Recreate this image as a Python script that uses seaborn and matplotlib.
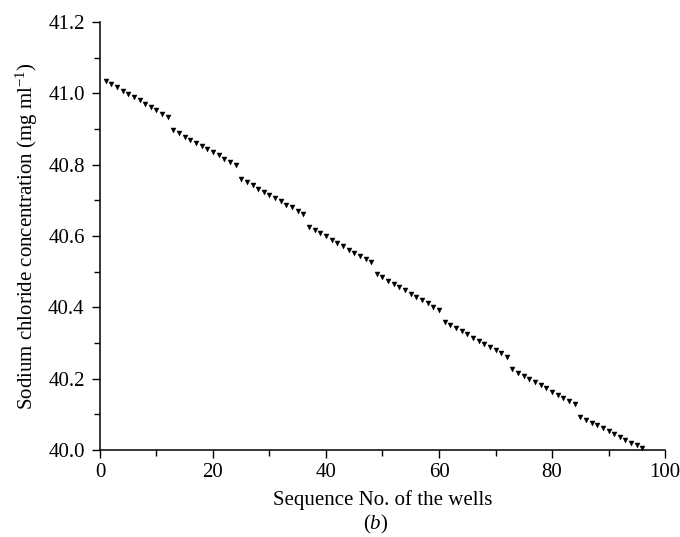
import matplotlib
matplotlib.use("Agg")
import matplotlib.pyplot as plt
import seaborn as sns
import pandas as pd
from matplotlib.ticker import MultipleLocator, FormatStrFormatter

# Well sequence numbers (8 rows x 12 wells)
wells = list(range(1, 97))

row_a = [41.035, 41.026, 41.017, 41.007, 40.998, 40.989, 40.980, 40.971, 40.962, 40.953, 40.943, 40.934]
row_b = [40.897, 40.888, 40.879, 40.870, 40.861, 40.852, 40.844, 40.835, 40.826, 40.817, 40.808, 40.799]
row_c = [40.760, 40.751, 40.742, 40.733, 40.724, 40.715, 40.706, 40.697, 40.688, 40.680, 40.671, 40.662]
row_d = [40.626, 40.617, 40.608, 40.599, 40.590, 40.581, 40.571, 40.562, 40.553, 40.544, 40.535, 40.526]
row_e = [40.493, 40.484, 40.475, 40.466, 40.457, 40.448, 40.438, 40.429, 40.420, 40.411, 40.402, 40.393]
row_f = [40.360, 40.351, 40.342, 40.333, 40.324, 40.315, 40.307, 40.298, 40.289, 40.280, 40.271, 40.262]
row_g = [40.226, 40.217, 40.208, 40.199, 40.191, 40.182, 40.173, 40.164, 40.155, 40.147, 40.138, 40.129]
row_h = [40.093, 40.085, 40.077, 40.069, 40.061, 40.053, 40.045, 40.037, 40.029, 40.021, 40.013, 40.005]

concentration = row_a + row_b + row_c + row_d + row_e + row_f + row_g + row_h

x_label = "Sequence No. of the wells"
y_label = "Sodium chloride concentration (mg ml$^{-1}$)"
panel_label = "($\\it{b}$)"

sns.set_theme(style="white")
plt.rcParams['font.family'] = ['Liberation Serif', 'DejaVu Serif']
plt.rcParams['mathtext.fontset'] = 'custom'
plt.rcParams['mathtext.rm'] = 'Liberation Serif'
plt.rcParams['mathtext.it'] = 'Liberation Serif:italic'

df = pd.DataFrame({"well": wells, "conc": concentration})

fig = plt.figure(figsize=(6.8, 5.37), dpi=100)
ax = fig.add_axes([0.147, 0.162, 0.831, 0.797])

sns.scatterplot(data=df, x="well", y="conc", marker="v", s=13, color="black",
                edgecolor="black", linewidth=0.3, ax=ax, clip_on=False)

ax.set_xlim(0, 100)
ax.set_ylim(40.0, 41.2)
ax.xaxis.set_major_locator(MultipleLocator(20))
ax.xaxis.set_minor_locator(MultipleLocator(10))
ax.yaxis.set_major_locator(MultipleLocator(0.2))
ax.yaxis.set_minor_locator(MultipleLocator(0.1))
ax.yaxis.set_major_formatter(FormatStrFormatter('%.1f'))

for side in ["top", "right"]:
    ax.spines[side].set_visible(False)
for side in ["left", "bottom"]:
    ax.spines[side].set_color("black")
    ax.spines[side].set_linewidth(1.1)

ax.tick_params(which="major", direction="out", length=6, width=1.0, color="black",
               labelsize=15, labelcolor="black", bottom=True, left=True)
ax.tick_params(axis="x", which="major", pad=3)
ax.tick_params(axis="y", which="major", pad=5)
ax.tick_params(which="minor", direction="out", length=4, width=1.0, color="black",
               bottom=True, left=True)

ax.set_xlabel(x_label, fontsize=15, color="black")
ax.xaxis.label.set_va("baseline")
ax.xaxis.set_label_coords(0.5, (450 - 505) / 428)

ax.set_ylabel(y_label, fontsize=15, color="black")
ax.yaxis.label.set_va("center")
ax.yaxis.set_label_coords((27 - 100) / 565, 0.5)

fig.text(376 / 680, 8 / 537, panel_label, fontsize=15, ha="center", va="baseline", color="black")

fig.savefig("out.png", dpi=100)
